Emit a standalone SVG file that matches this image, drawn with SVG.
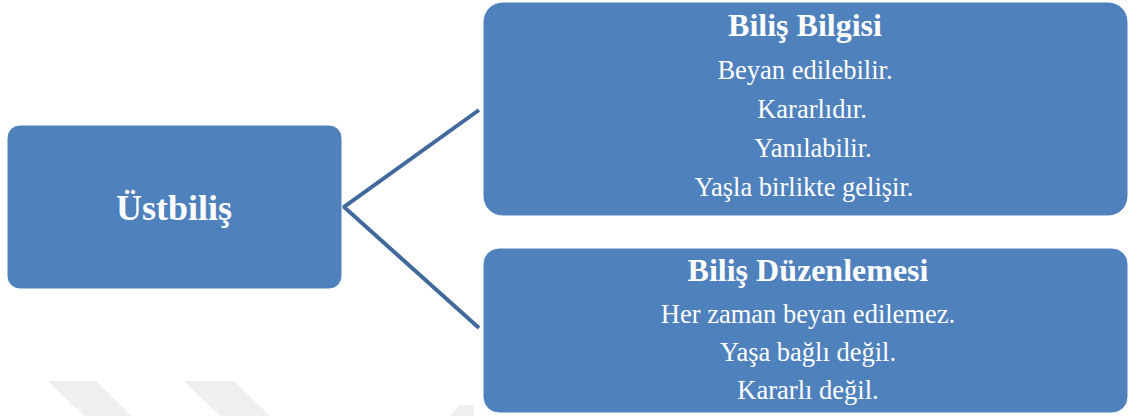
<svg xmlns="http://www.w3.org/2000/svg" width="1129" height="416" viewBox="0 0 1129 416">
<style>
.box{fill:#4F81BD;stroke:#ffffff;stroke-width:1}
.t{font-family:"Liberation Serif","Times New Roman",serif;fill:#ffffff;text-anchor:middle}
.h{font-weight:bold;font-size:32px}
.b{font-size:26.5px}
.wm{fill:#EFEFEF}
.c{stroke:#41699C;stroke-width:4;fill:none}
</style>
<rect width="1129" height="416" fill="#ffffff"/>
<g id="watermark">
<polygon class="wm" points="48,381 96,381 132,416 84,416"/>
<polygon class="wm" points="184,381 234,381 270,416 220,416"/>
<polygon class="wm" points="460,405 474,405 474,416 450,416"/>
</g>
<g id="connectors">
<polyline class="c" points="479,110 344,207 479,328"/>
</g>
<g id="n-ustbilis">
<rect class="box" x="7" y="125" width="335" height="164" rx="13"/>
<text class="t" x="174" y="220" style="font-weight:bold;font-size:36px">Üstbiliş</text>
</g>
<g id="n-bilis-bilgisi">
<rect class="box" x="483" y="2" width="645" height="214" rx="20"/>
<text class="t h" x="805" y="36">Biliş Bilgisi</text>
<text class="t b" x="805" y="79">Beyan edilebilir.</text>
<text class="t b" x="812" y="118">Kararlıdır.</text>
<text class="t b" x="813" y="157">Yanılabilir.</text>
<text class="t b" x="804" y="196">Yaşla birlikte gelişir.</text>
</g>
<g id="n-bilis-duzenlemesi">
<rect class="box" x="483" y="248" width="645" height="165" rx="16"/>
<text class="t h" x="808" y="281">Biliş Düzenlemesi</text>
<text class="t b" x="808" y="323">Her zaman beyan edilemez.</text>
<text class="t b" x="808" y="361">Yaşa bağlı değil.</text>
<text class="t b" x="808" y="399">Kararlı değil.</text>
</g>
</svg>
